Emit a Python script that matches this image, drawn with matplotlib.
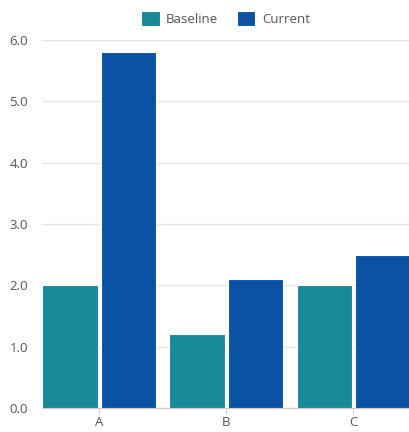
import matplotlib
matplotlib.use("Agg")
import matplotlib.pyplot as plt
import numpy as np

categories = ["A", "B", "C"]
series_names = ["Baseline", "Current"]
baseline = [2.0, 1.2, 2.0]
current = [5.8, 2.1, 2.5]
y_ticks = [0.0, 1.0, 2.0, 3.0, 4.0, 5.0, 6.0]

colors = ["#178a99", "#0a52a3"]
text_color = "#555555"

plt.rcParams["font.family"] = ["Open Sans", "DejaVu Sans"]

fig = plt.figure(figsize=(4.10, 4.32), dpi=100)
ax = fig.add_axes([0.1024, 0.0556, 0.8976, 0.8518])

x = np.arange(len(categories))
w = 0.435
ax.bar(x - w / 2 - 0.012, baseline, width=w, color=colors[0], edgecolor="white",
       linewidth=0.8, label=series_names[0], zorder=3)
ax.bar(x + w / 2 + 0.012, current, width=w, color=colors[1], edgecolor="white",
       linewidth=0.8, label=series_names[1], zorder=3)

ax.set_xlim(-0.45, 2.445)
ax.set_ylim(0, 6.0)
ax.set_yticks(y_ticks)
ax.set_yticklabels([f"{v:.1f}" for v in y_ticks])
ax.set_xticks(x)
ax.set_xticklabels(categories)

ax.grid(axis="y", color="#e6e6e6", linewidth=1, zorder=0)
for s in ["top", "right", "left"]:
    ax.spines[s].set_visible(False)
ax.spines["bottom"].set_color("#cccccc")
ax.tick_params(axis="y", length=0, pad=10, labelsize=9.5, labelcolor=text_color)
ax.tick_params(axis="x", length=4, color="#cccccc", pad=2, labelsize=9.5,
               labelcolor=text_color)

leg = fig.legend(loc="center", bbox_to_anchor=(0.55, 0.958), ncol=2, frameon=False,
                 fontsize=9.5, handlelength=1.4, handleheight=1.4,
                 columnspacing=1.4, handletextpad=0.5)
for t in leg.get_texts():
    t.set_color(text_color)

fig.savefig("out.png", dpi=100)
